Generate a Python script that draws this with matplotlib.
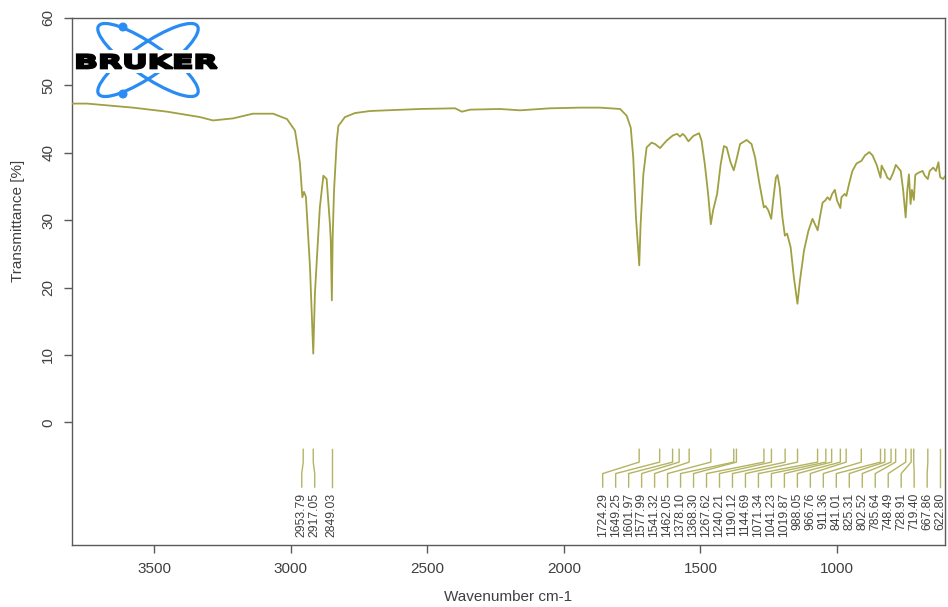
import numpy as np
import matplotlib
matplotlib.use("Agg")
import matplotlib.pyplot as plt
from matplotlib.patches import Ellipse, Circle, Rectangle, PathPatch
from matplotlib.textpath import TextPath
from matplotlib.font_manager import FontProperties
from matplotlib.transforms import Affine2D

plt.rcParams["font.family"] = ["Liberation Sans", "DejaVu Sans"]

# ---------------------------------------------------------------------------
# spectrum: wavenumber (cm-1) vs transmittance (%)
wavenumber = [3800, 3745, 3577, 3452, 3332, 3284, 3211, 3138, 3064, 3013,
              2984, 2978, 2966, 2957, 2951, 2944, 2929, 2917, 2911, 2893,
              2880, 2868, 2856, 2853, 2849, 2846, 2841, 2831, 2825, 2801,
              2764, 2709, 2526, 2398, 2373, 2343, 2234, 2160, 2051, 1941,
              1868, 1794, 1770, 1755, 1746, 1736, 1724, 1719, 1709, 1697,
              1679, 1666, 1648, 1624, 1600, 1585, 1575, 1565, 1557, 1544,
              1526, 1505, 1496, 1484, 1472, 1462, 1454, 1439, 1426, 1414,
              1404, 1390, 1378, 1368, 1355, 1331, 1313, 1300, 1284, 1268,
              1262, 1252, 1241, 1234, 1224, 1218, 1210, 1200, 1191, 1183,
              1170, 1158, 1145, 1136, 1121, 1105, 1090, 1081, 1071, 1063,
              1053, 1044, 1035, 1026, 1018, 1008, 1000, 988, 984, 972,
              966, 956, 944, 929, 911, 898, 882, 870, 855, 841,
              837, 831, 825, 816, 806, 794, 785, 767, 758, 749,
              743, 737, 731, 726, 719, 714, 712, 699, 687, 679,
              668, 661, 648, 638, 629, 623, 612, 605]
transmittance = [47.3, 47.3, 46.7, 46.1, 45.3, 44.8, 45.1, 45.8, 45.8, 45.0,
                 43.3, 41.8, 38.5, 33.4, 34.2, 33.5, 23.0, 10.2, 19.1, 31.9,
                 36.6, 36.1, 29.4, 27.0, 18.1, 27.5, 34.4, 41.8, 44.0, 45.3,
                 45.9, 46.2, 46.5, 46.6, 46.1, 46.4, 46.5, 46.3, 46.6, 46.7,
                 46.7, 46.5, 45.5, 43.7, 39.3, 30.4, 23.3, 29.4, 36.8, 40.8,
                 41.5, 41.3, 40.7, 41.8, 42.6, 42.8, 42.4, 42.8, 42.5, 41.7,
                 42.5, 42.9, 41.8, 38.3, 33.9, 29.4, 31.4, 33.9, 38.3, 41.0,
                 40.8, 38.6, 37.4, 39.0, 41.3, 41.9, 41.3, 39.3, 35.4, 31.9,
                 32.1, 31.5, 30.2, 32.9, 36.3, 36.7, 34.9, 30.4, 27.7, 28.0,
                 26.0, 21.5, 17.6, 21.0, 25.5, 28.4, 30.2, 29.4, 28.5, 30.4,
                 32.6, 32.9, 33.4, 33.0, 33.9, 34.5, 32.9, 31.8, 33.4, 33.9,
                 33.6, 35.4, 37.3, 38.4, 38.8, 39.6, 40.1, 39.6, 38.2, 36.3,
                 38.1, 37.6, 37.2, 36.3, 36.0, 37.1, 38.2, 37.3, 34.4, 30.4,
                 34.4, 36.8, 32.4, 34.5, 33.0, 36.6, 36.8, 37.1, 37.3, 36.6,
                 36.1, 37.3, 37.8, 37.3, 38.6, 36.4, 36.1, 36.5]

# labelled peaks (cm-1)
peaks = [2953.79, 2917.05, 2849.03,
         1724.29, 1649.25, 1601.97, 1577.99, 1541.32, 1462.05, 1378.10,
         1368.30, 1267.62, 1240.21, 1190.12, 1144.69, 1071.34, 1041.23,
         1019.87, 988.05, 966.76, 911.36, 841.01, 825.31, 802.52, 785.64,
         748.49, 728.91, 719.40, 667.86, 622.80]

x_ticks = [3500, 3000, 2500, 2000, 1500, 1000]
y_ticks = [0, 10, 20, 30, 40, 50, 60]

LINE = "#a0a042"
MARK = "#b4b464"
TXT = "#404040"
SPINE = "#5a5a5a"


def spread_labels(pos, sp, lo):
    """Spread label positions so neighbours are at least `sp` apart."""
    clusters = [[p] for p in sorted(pos)]

    def place(c):
        start = max(np.mean(c) - (len(c) - 1) / 2 * sp, lo)
        return [start + i * sp for i in range(len(c))]

    merged = True
    while merged:
        merged = False
        for i in range(len(clusters) - 1):
            if place(clusters[i + 1])[0] < place(clusters[i])[-1] + sp:
                clusters[i] = clusters[i] + clusters.pop(i + 1)
                merged = True
                break
    out = {}
    for c in clusters:
        for p, q in zip(sorted(c), place(c)):
            out[p] = q
    return out


fig = plt.figure(figsize=(9.48, 6.07), dpi=100)
ax = fig.add_axes([72 / 948, 1 - 545 / 607, 873 / 948, 527 / 607])

ax.plot(wavenumber, transmittance, color=LINE, lw=1.3, zorder=3)

# peak picking marks
lab = spread_labels(peaks, 47.5, min(peaks))
for p in peaks:
    q = lab[p]
    ax.plot([p, p, q, q], [-4.0, -5.9, -7.6, -9.6], color=MARK, lw=1.0,
            zorder=2)
    ax.text(q, -10.5, f"{p:.2f}", rotation=90, ha="center", va="top",
            fontsize=8.8, color=TXT)

ax.set_xlim(3800, 605)
ax.set_ylim(-18.2, 60)
ax.set_xticks(x_ticks)
ax.set_yticks(y_ticks)
ax.set_yticklabels([str(v) for v in y_ticks], rotation=90, va="center")
ax.tick_params(axis="x", length=6, width=1, color=SPINE, labelsize=11,
               labelcolor=TXT, pad=6.5)
ax.tick_params(axis="y", length=6, width=1, color=SPINE, labelsize=11,
               labelcolor=TXT, pad=6)
for s in ax.spines.values():
    s.set_color(SPINE)
    s.set_linewidth(1.0)
ax.set_xlabel("Wavenumber cm-1", fontsize=11, color=TXT, labelpad=10)
ax.set_ylabel("Transmittance [%]", fontsize=11, color=TXT)
ax.yaxis.set_label_coords(-0.054, 0.615)

# Bruker logo, drawn in a pixel-sized overlay
lg = fig.add_axes([72 / 948, 1 - 100 / 607, 153 / 948, 83 / 607])
lg.set_xlim(72, 225)
lg.set_ylim(100, 17)
lg.axis("off")
BLUE = "#2a8cf2"
for ang in (34.6, -34.6):
    lg.add_patch(Ellipse((148, 60), 120, 32, angle=ang, fill=False,
                         ec=BLUE, lw=2.3))
for cy in (27, 94):
    lg.add_patch(Circle((123, cy), 3.8, color=BLUE))
lg.add_patch(Rectangle((75, 50), 144, 23, color="white", lw=0))
tp = TextPath((0, 0), "BRUKER", size=10,
              prop=FontProperties(family="DejaVu Sans", weight="bold"))
bb = tp.get_extents()
sx = 140 / bb.width
sy = 14.0 / bb.height
tr = Affine2D().translate(-bb.x0, -bb.y0).scale(sx, -sy).translate(77, 68.5)
lg.add_patch(PathPatch(tr.transform_path(tp), fc="black", ec="black",
                       lw=1.6))

fig.savefig("out.png", dpi=100)
